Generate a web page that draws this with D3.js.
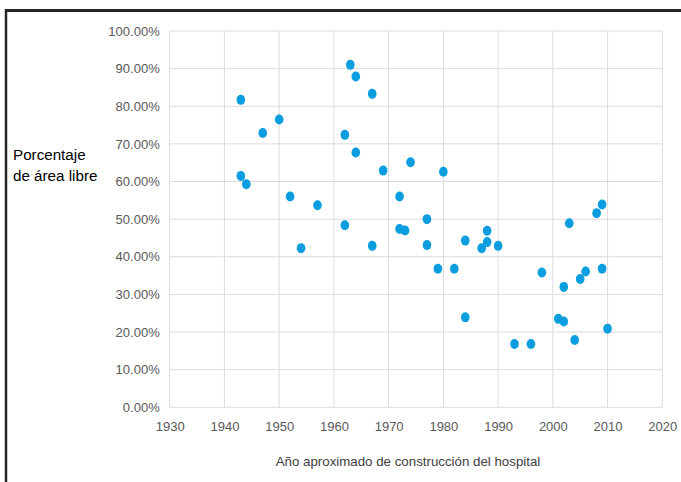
<!DOCTYPE html>
<html><head><meta charset="utf-8">
<script src="https://cdn.jsdelivr.net/npm/d3@7"></script>
<style>
html,body{margin:0;padding:0;background:#fff;}
svg{display:block;font-family:"Liberation Sans",Arial,sans-serif;}
</style></head>
<body>
<svg id="chart" width="681" height="482"></svg>
<script>
const years = [1963,1964,1967,1943,1950,1947,1962,1964,1969,1974,1943,1944,1952,1957,1972,1980,1977,2009,2008,1962,1954,1967,1972,1973,2003,1988,1984,1988,1987,1990,1977,1979,1982,1998,2009,2006,2005,2002,1984,2001,2002,2010,2004,1993,1996];
const areas = [91.0,87.9,83.3,81.7,76.5,72.9,72.4,67.7,62.9,65.1,61.5,59.3,56.0,53.7,56.0,62.6,50.0,53.9,51.6,48.4,42.3,42.9,47.4,47.0,48.9,46.9,44.3,43.9,42.3,42.9,43.1,36.8,36.8,35.8,36.8,36.1,34.1,32.0,23.9,23.5,22.8,20.9,17.9,16.8,16.8];
const xTicks = [1930,1940,1950,1960,1970,1980,1990,2000,2010,2020];
const yTicks = [0,10,20,30,40,50,60,70,80,90,100];
const xTitle = "Año aproximado de construcción del hospital";
const yTitle = ["Porcentaje","de área libre"];

const svg = d3.select("#chart");
const L=169.7, R=662.3, T=31, B=407.3;
const x = d3.scaleLinear().domain([1930,2020]).range([L,R]);
const y = d3.scaleLinear().domain([0,100]).range([B,T]);

// frame lines
svg.append("line").attr("x1",5).attr("x2",681).attr("y1",10.5).attr("y2",10.5).attr("stroke","#262626").attr("stroke-width",3);
svg.append("line").attr("x1",6).attr("x2",6).attr("y1",9).attr("y2",482).attr("stroke","#262626").attr("stroke-width",2.5);

// gridlines
svg.append("g").selectAll("line").data(xTicks).join("line")
  .attr("x1",d=>x(d)).attr("x2",d=>x(d)).attr("y1",T).attr("y2",B)
  .attr("stroke","#dcdcdc").attr("stroke-width",1);
svg.append("g").selectAll("line").data(yTicks).join("line")
  .attr("x1",L).attr("x2",R).attr("y1",d=>y(d)).attr("y2",d=>y(d))
  .attr("stroke","#dcdcdc").attr("stroke-width",1);

const xAxis = svg.append("g").attr("transform",`translate(0,${B})`)
  .call(d3.axisBottom(x).tickValues(xTicks).tickFormat(d3.format("d")).tickSize(0).tickPadding(14));
xAxis.select(".domain").remove();
xAxis.selectAll("text").attr("fill","#595959").attr("font-size",13).attr("font-family","Liberation Sans, Arial, sans-serif");

const yAxis = svg.append("g").attr("transform",`translate(${L},0)`)
  .call(d3.axisLeft(y).tickValues(yTicks).tickFormat(d=>d.toFixed(2)+"%").tickSize(0).tickPadding(10));
yAxis.select(".domain").remove();
yAxis.selectAll("text").attr("fill","#595959").attr("font-size",13).attr("font-family","Liberation Sans, Arial, sans-serif");

svg.append("g").selectAll("ellipse").data(years.map((d,i)=>({yr:d,v:areas[i]}))).join("ellipse")
  .attr("cx",d=>x(d.yr)).attr("cy",d=>y(d.v)).attr("rx",4.3).attr("ry",5)
  .attr("fill","#0a9de0");

svg.append("text").attr("x",408).attr("y",466).attr("text-anchor","middle")
  .attr("fill","#404040").attr("font-size",13.3).text(xTitle);
svg.append("text").attr("x",13).attr("y",160).attr("fill","#000").attr("font-size",15.2).text(yTitle[0]);
svg.append("text").attr("x",13).attr("y",181).attr("fill","#000").attr("font-size",15.2).text(yTitle[1]);
</script>
</body></html>
